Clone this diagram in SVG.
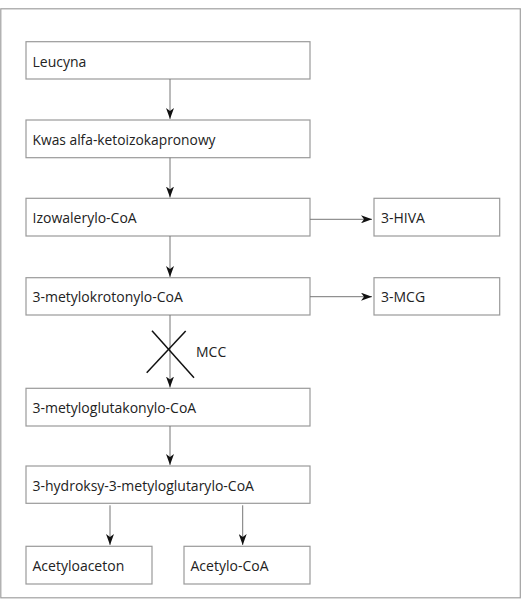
<svg xmlns="http://www.w3.org/2000/svg" width="522" height="600" viewBox="0 0 522 600">
<defs>
<marker id="ah" viewBox="0 0 11 8" refX="11" refY="4" markerWidth="11" markerHeight="8" markerUnits="userSpaceOnUse" orient="auto">
<path d="M0,0 L11,4 L0,8 L3,4 Z" fill="#111"/>
</marker>
<style>
.box{fill:#fff;stroke:#9a9a9a;stroke-width:1.2}
.t{font-family:"Open Sans","DejaVu Sans",sans-serif;font-size:14px;fill:#222}
.c{stroke:#777;stroke-width:1;fill:none;marker-end:url(#ah)}
</style>
</defs>
<rect x="0" y="0" width="522" height="600" fill="#fff"/>
<rect x="0.8" y="8.8" width="519.5" height="589" fill="none" stroke="#a0a0a0" stroke-width="1.2"/>
<g id="n1"><rect class="box" x="26" y="41.7" width="284" height="37.3"/><text class="t" x="32.5" y="66.5">Leucyna</text></g>
<g id="n2"><rect class="box" x="26" y="120" width="284" height="37.7"/><text class="t" x="32.5" y="144.5" textLength="183" lengthAdjust="spacingAndGlyphs">Kwas alfa-ketoizokapronowy</text></g>
<g id="n3"><rect class="box" x="26" y="198.3" width="284" height="37.7"/><text class="t" x="32.5" y="223">Izowalerylo-CoA</text></g>
<g id="n4"><rect class="box" x="374" y="198.3" width="125.7" height="37.7"/><text class="t" x="381" y="223">3-HIVA</text></g>
<g id="n5"><rect class="box" x="26" y="277.7" width="284" height="37.3"/><text class="t" x="32.5" y="302">3-metylokrotonylo-CoA</text></g>
<g id="n6"><rect class="box" x="374" y="277.7" width="125.7" height="37.3"/><text class="t" x="381" y="302">3-MCG</text></g>
<g id="n7"><rect class="box" x="26" y="388.3" width="284" height="37.7"/><text class="t" x="32.5" y="413">3-metyloglutakonylo-CoA</text></g>
<g id="n8"><rect class="box" x="26" y="466" width="284" height="37.3"/><text class="t" x="32.5" y="490.5">3-hydroksy-3-metyloglutarylo-CoA</text></g>
<g id="n9"><rect class="box" x="26" y="546.3" width="126" height="37.7"/><text class="t" x="32.5" y="571">Acetyloaceton</text></g>
<g id="n10"><rect class="box" x="184" y="546.3" width="126" height="37.7"/><text class="t" x="190.5" y="571">Acetylo-CoA</text></g>
<g id="connectors">
<line class="c" x1="170" y1="79" x2="170" y2="119"/>
<line class="c" x1="170" y1="157.7" x2="170" y2="197.5"/>
<line class="c" x1="170" y1="236" x2="170" y2="277"/>
<line class="c" x1="310" y1="219.3" x2="372" y2="219.3"/>
<line class="c" x1="310" y1="296.7" x2="372" y2="296.7"/>
<line class="c" x1="170" y1="315" x2="170" y2="387.5"/>
<line class="c" x1="170" y1="426" x2="170" y2="465"/>
<line class="c" x1="110" y1="505.3" x2="110" y2="545"/>
<line class="c" x1="242.7" y1="505.3" x2="242.7" y2="545"/>
<line x1="152" y1="330.7" x2="194" y2="377.7" stroke="#111" stroke-width="1.5"/>
<line x1="146.7" y1="372.7" x2="185.7" y2="331" stroke="#111" stroke-width="1.5"/>
<text class="t" x="196" y="357">MCC</text>
</g>
</svg>
